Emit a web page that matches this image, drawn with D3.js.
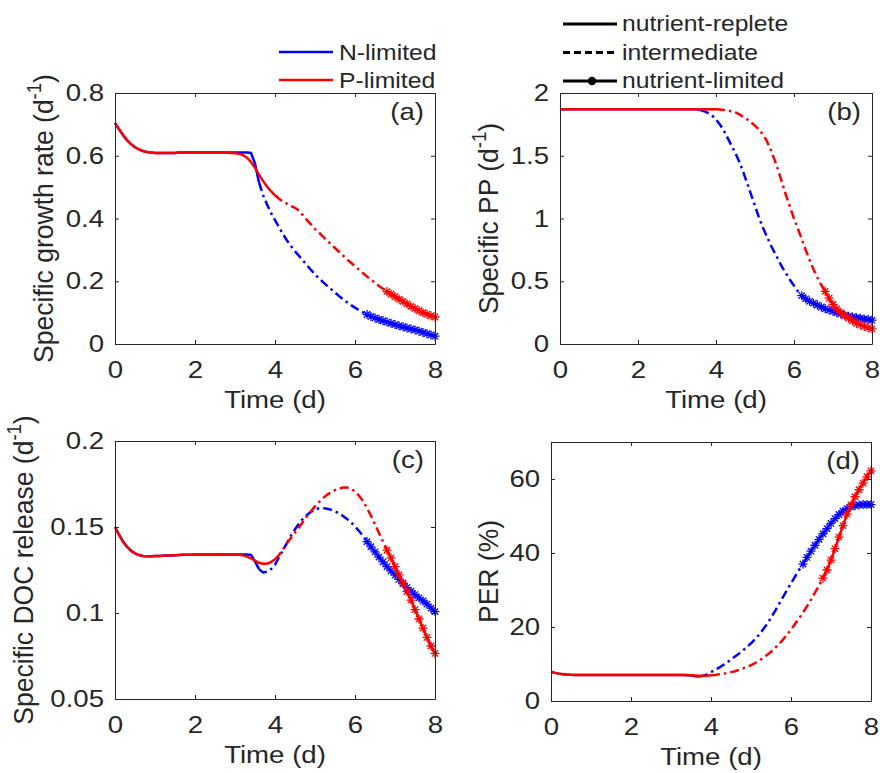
<!DOCTYPE html>
<html>
<head>
<meta charset="utf-8">
<script src="https://cdn.jsdelivr.net/npm/d3@7"></script>
<style>
body { margin: 0; background: #fff; }
text { font-family: "Liberation Sans", Arial, sans-serif; fill: #262626; }
</style>
</head>
<body>
<svg id="fig" width="880" height="773"></svg>
<script>
// time grid of the model output (d)
const days = [
    0, 0.1, 0.2, 0.3, 0.4, 0.5, 0.6, 0.7, 0.8, 0.9,
    1, 1.1, 1.2, 1.3, 1.4, 1.5, 1.6, 1.7, 1.8, 1.9,
    2, 2.1, 2.2, 2.3, 2.4, 2.5, 2.6, 2.7, 2.8, 2.9,
    3, 3.1, 3.2, 3.3, 3.4, 3.5, 3.6, 3.7, 3.8, 3.9,
    4, 4.1, 4.2, 4.3, 4.4, 4.5, 4.6, 4.7, 4.8, 4.9,
    5, 5.1, 5.2, 5.3, 5.4, 5.5, 5.6, 5.7, 5.8, 5.9,
    6, 6.1, 6.2, 6.3, 6.4, 6.5, 6.6, 6.7, 6.8, 6.9,
    7, 7.1, 7.2, 7.3, 7.4, 7.5, 7.6, 7.7, 7.8, 7.9, 8
];

// (a) specific growth rate (d-1)
const growthN = [
    0.704, 0.685, 0.666, 0.650, 0.637, 0.627, 0.620, 0.615, 0.612, 0.610,
    0.609, 0.609, 0.609, 0.609, 0.609, 0.609, 0.610, 0.610, 0.610, 0.610,
    0.610, 0.610, 0.610, 0.610, 0.610, 0.610, 0.610, 0.610, 0.610, 0.610,
    0.610, 0.610, 0.610, 0.610, 0.609, 0.575, 0.515, 0.475, 0.445, 0.418,
    0.395, 0.372, 0.350, 0.330, 0.312, 0.295, 0.281, 0.266, 0.251, 0.236,
    0.222, 0.209, 0.197, 0.186, 0.175, 0.164, 0.153, 0.143, 0.133, 0.124,
    0.116, 0.108, 0.101, 0.094, 0.088, 0.083, 0.078, 0.074, 0.070, 0.066,
    0.062, 0.058, 0.055, 0.051, 0.048, 0.045, 0.041, 0.037, 0.033, 0.029, 0.025
];
const growthP = [
    0.704, 0.685, 0.666, 0.650, 0.637, 0.627, 0.620, 0.615, 0.612, 0.610,
    0.609, 0.609, 0.609, 0.609, 0.609, 0.609, 0.610, 0.610, 0.610, 0.610,
    0.610, 0.610, 0.610, 0.610, 0.610, 0.610, 0.610, 0.610, 0.610, 0.609,
    0.608, 0.606, 0.602, 0.594, 0.580, 0.562, 0.540, 0.520, 0.502, 0.487,
    0.474, 0.463, 0.454, 0.447, 0.440, 0.434, 0.425, 0.410, 0.395, 0.381,
    0.367, 0.355, 0.342, 0.330, 0.318, 0.306, 0.294, 0.282, 0.270, 0.259,
    0.248, 0.237, 0.226, 0.215, 0.205, 0.195, 0.185, 0.176, 0.167, 0.159,
    0.151, 0.143, 0.136, 0.128, 0.120, 0.113, 0.106, 0.100, 0.095, 0.090, 0.086
];

// (b) specific PP (d-1)
const ppN = [
    1.870, 1.870, 1.870, 1.870, 1.870, 1.870, 1.870, 1.870, 1.870, 1.870,
    1.870, 1.870, 1.870, 1.870, 1.870, 1.870, 1.870, 1.870, 1.870, 1.870,
    1.870, 1.870, 1.870, 1.870, 1.870, 1.870, 1.870, 1.870, 1.870, 1.870,
    1.870, 1.870, 1.870, 1.870, 1.870, 1.870, 1.865, 1.855, 1.840, 1.820,
    1.790, 1.750, 1.700, 1.640, 1.580, 1.520, 1.450, 1.370, 1.280, 1.190,
    1.100, 1.010, 0.930, 0.860, 0.790, 0.730, 0.670, 0.610, 0.560, 0.510,
    0.465, 0.420, 0.385, 0.360, 0.340, 0.325, 0.310, 0.295, 0.280, 0.270,
    0.260, 0.250, 0.240, 0.230, 0.222, 0.215, 0.210, 0.205, 0.200, 0.195, 0.190
];
const ppP = [
    1.870, 1.870, 1.870, 1.870, 1.870, 1.870, 1.870, 1.870, 1.870, 1.870,
    1.870, 1.870, 1.870, 1.870, 1.870, 1.870, 1.870, 1.870, 1.870, 1.870,
    1.870, 1.870, 1.870, 1.870, 1.870, 1.870, 1.870, 1.870, 1.870, 1.870,
    1.870, 1.870, 1.870, 1.870, 1.870, 1.870, 1.870, 1.870, 1.870, 1.870,
    1.870, 1.868, 1.865, 1.860, 1.855, 1.845, 1.830, 1.810, 1.790, 1.765,
    1.740, 1.710, 1.670, 1.620, 1.550, 1.470, 1.380, 1.280, 1.180, 1.090,
    1.000, 0.920, 0.835, 0.750, 0.670, 0.595, 0.530, 0.470, 0.420, 0.365,
    0.315, 0.280, 0.250, 0.225, 0.205, 0.185, 0.165, 0.152, 0.140, 0.130, 0.120
];

// (c) specific DOC release (d-1)
const docN = [
    0.1500, 0.1455, 0.1415, 0.1385, 0.1362, 0.1347, 0.1337, 0.1332, 0.1330, 0.1330,
    0.1331, 0.1332, 0.1333, 0.1334, 0.1335, 0.1336, 0.1337, 0.1338, 0.1339, 0.1339,
    0.1340, 0.1340, 0.1340, 0.1340, 0.1340, 0.1340, 0.1340, 0.1340, 0.1340, 0.1340,
    0.1340, 0.1340, 0.1340, 0.1340, 0.1338, 0.1300, 0.1255, 0.1236, 0.1240, 0.1255,
    0.1280, 0.1325, 0.1365, 0.1408, 0.1450, 0.1487, 0.1520, 0.1548, 0.1570, 0.1588,
    0.1601, 0.1609, 0.1610, 0.1606, 0.1600, 0.1591, 0.1579, 0.1564, 0.1547, 0.1527,
    0.1503, 0.1477, 0.1448, 0.1415, 0.1385, 0.1355, 0.1325, 0.1297, 0.1270, 0.1245,
    0.1220, 0.1195, 0.1170, 0.1148, 0.1127, 0.1107, 0.1088, 0.1070, 0.1052, 0.1028, 0.1008
];
const docP = [
    0.1500, 0.1455, 0.1415, 0.1385, 0.1362, 0.1347, 0.1337, 0.1332, 0.1330, 0.1330,
    0.1331, 0.1332, 0.1333, 0.1334, 0.1335, 0.1336, 0.1337, 0.1338, 0.1339, 0.1339,
    0.1340, 0.1340, 0.1340, 0.1340, 0.1340, 0.1340, 0.1340, 0.1340, 0.1340, 0.1340,
    0.1339, 0.1338, 0.1335, 0.1328, 0.1318, 0.1304, 0.1292, 0.1286, 0.1287, 0.1296,
    0.1312, 0.1337, 0.1370, 0.1405, 0.1437, 0.1468, 0.1497, 0.1530, 0.1562, 0.1592,
    0.1620, 0.1645, 0.1667, 0.1687, 0.1702, 0.1714, 0.1723, 0.1729, 0.1729, 0.1722,
    0.1707, 0.1683, 0.1650, 0.1610, 0.1565, 0.1515, 0.1465, 0.1415, 0.1365, 0.1320,
    0.1270, 0.1222, 0.1175, 0.1125, 0.1075, 0.1020, 0.0965, 0.0912, 0.0858, 0.0808, 0.0765
];

// (d) PER (%)
const perN = [
    7.9, 7.6, 7.4, 7.25, 7.15, 7.08, 7.04, 7.02, 7.0, 7.0,
    7.0, 7.0, 7.0, 7.0, 7.0, 7.0, 7.0, 7.0, 7.0, 7.0,
    7.0, 7.0, 7.0, 7.0, 7.0, 7.0, 7.0, 7.0, 7.0, 7.0,
    7.0, 7.0, 7.0, 7.0, 7.0, 6.9, 6.7, 6.6, 6.8, 7.2,
    7.8, 8.4, 9.0, 9.7, 10.4, 11.2, 12.0, 12.8, 13.7, 14.6,
    15.6, 16.7, 17.9, 19.3, 20.8, 22.5, 24.3, 26.2, 28.1, 30.0,
    31.8, 33.6, 35.4, 37.0, 38.8, 40.5, 42.1, 43.7, 45.2, 46.6,
    48.0, 49.3, 50.4, 51.3, 52.0, 52.5, 52.8, 53.0, 53.1, 53.1, 53.1
];
const perP = [
    7.9, 7.6, 7.4, 7.25, 7.15, 7.08, 7.04, 7.02, 7.0, 7.0,
    7.0, 7.0, 7.0, 7.0, 7.0, 7.0, 7.0, 7.0, 7.0, 7.0,
    7.0, 7.0, 7.0, 7.0, 7.0, 7.0, 7.0, 7.0, 7.0, 7.0,
    7.0, 7.0, 7.0, 7.0, 6.98, 6.95, 6.88, 6.82, 6.8, 6.85,
    6.95, 7.05, 7.2, 7.35, 7.55, 7.8, 8.05, 8.4, 8.8, 9.2,
    9.7, 10.25, 10.9, 11.6, 12.4, 13.3, 14.3, 15.4, 16.6, 17.9,
    19.3, 20.8, 22.3, 23.9, 25.6, 27.4, 29.3, 31.2, 33.2, 35.4,
    38.1, 41.2, 44.3, 47.4, 50.5, 53.0, 55.2, 57.1, 58.9, 60.6, 62.2
];

// day at which each run enters the intermediate / nutrient-limited phase
const growthPhaseN = [3.6, 6.3], growthPhaseP = [4.0, 6.8];
const ppPhaseN = [3.6, 6.2], ppPhaseP = [4.0, 6.8];
const docPhaseN = [3.6, 6.3], docPhaseP = [4.0, 6.8];
const perPhaseN = [3.7, 6.3], perPhaseP = [4.0, 6.8];

const xTicks = [0, 2, 4, 6, 8];
const xTickLabels = ['0', '2', '4', '6', '8'];
const growthTicks = [0, 0.2, 0.4, 0.6, 0.8], growthTickLabels = ['0', '0.2', '0.4', '0.6', '0.8'];
const ppTicks = [0, 0.5, 1, 1.5, 2], ppTickLabels = ['0', '0.5', '1', '1.5', '2'];
const docTicks = [0.05, 0.1, 0.15, 0.2], docTickLabels = ['0.05', '0.1', '0.15', '0.2'];
const perTicks = [0, 20, 40, 60], perTickLabels = ['0', '20', '40', '60'];

const runNames = ['N-limited', 'P-limited'];
const phaseNames = ['nutrient-replete', 'intermediate', 'nutrient-limited'];

const svg = d3.select('#fig');
const ink = '#262626';
const sx = 1.15; // the reference text is stretched sideways
const blue = '#0000ff', red = '#ff0000';
const dashDot = '9,4,2.5,4';

const panels = [
    {tag: '(a)', left: 115, right: 435, top: 93, bottom: 344, dom: [0, 0.8],
     ticks: growthTicks, tickLabels: growthTickLabels, ylabelX: 53,
     ylabel: ['Specific growth rate (d', ')'],
     runs: [[growthN, growthPhaseN, blue], [growthP, growthPhaseP, red]]},
    {tag: '(b)', left: 560, right: 872, top: 93, bottom: 344, dom: [0, 2],
     ticks: ppTicks, tickLabels: ppTickLabels, ylabelX: 498,
     ylabel: ['Specific PP (d', ')'],
     runs: [[ppN, ppPhaseN, blue], [ppP, ppPhaseP, red]]},
    {tag: '(c)', left: 115, right: 435, top: 441, bottom: 699, dom: [0.05, 0.2],
     ticks: docTicks, tickLabels: docTickLabels, ylabelX: 33,
     ylabel: ['Specific DOC release (d', ')'],
     runs: [[docN, docPhaseN, blue], [docP, docPhaseP, red]]},
    {tag: '(d)', left: 551, right: 871, top: 442, bottom: 701, dom: [0, 70],
     ticks: perTicks, tickLabels: perTickLabels, ylabelX: 498,
     ylabel: ['PER (%)'],
     runs: [[perN, perPhaseN, blue], [perP, perPhaseP, red]]}
];

// matlab '*' marker
const star = 'M-4.5,0H4.5M0,-4.5V4.5M-3.2,-3.2L3.2,3.2M-3.2,3.2L3.2,-3.2';

function indexOfDay(t) {
    return days.findIndex(d => Math.abs(d - t) < 1e-6);
}

function drawPanel(p) {
    const x = d3.scaleLinear().domain([0, 8]).range([p.left, p.right]);
    const y = d3.scaleLinear().domain(p.dom).range([p.bottom, p.top]);
    const line = d3.line().x(d => x(d[0])).y(d => y(d[1]));
    const g = svg.append('g');

    p.runs.forEach(([vals, phase, color]) => {
        const pts = days.map((t, i) => [t, vals[i]]);
        const i1 = indexOfDay(phase[0]);
        const i2 = indexOfDay(phase[1]);
        const segs = [
            [pts.slice(0, i1 + 1), null],
            [pts.slice(i1, i2 + 1), dashDot],
            [pts.slice(i2), null]
        ];
        segs.forEach(([seg, dash]) => {
            g.append('path')
                .datum(seg)
                .attr('d', line)
                .attr('fill', 'none')
                .attr('stroke', color)
                .attr('stroke-width', 2.5)
                .attr('stroke-dasharray', dash);
        });
        g.append('g')
            .selectAll('path')
            .data(pts.slice(i2))
            .join('path')
            .attr('transform', d => `translate(${x(d[0])},${y(d[1])})`)
            .attr('d', star)
            .attr('fill', 'none')
            .attr('stroke', color)
            .attr('stroke-width', 1.3);
    });

    // box with inward ticks on all four sides
    const bottomAxis = g.append('g')
        .attr('transform', `translate(0,${p.bottom})`)
        .call(d3.axisBottom(x).tickValues(xTicks)
            .tickFormat((d, i) => xTickLabels[i])
            .tickSizeInner(-4).tickSizeOuter(0).tickPadding(17));
    const leftAxis = g.append('g')
        .attr('transform', `translate(${p.left},0)`)
        .call(d3.axisLeft(y).tickValues(p.ticks)
            .tickFormat((d, i) => p.tickLabels[i])
            .tickSizeInner(-4).tickSizeOuter(0).tickPadding(9.5));
    g.append('g')
        .attr('transform', `translate(0,${p.top})`)
        .call(d3.axisTop(x).tickValues(xTicks).tickFormat('')
            .tickSizeInner(-4).tickSizeOuter(0));
    g.append('g')
        .attr('transform', `translate(${p.right},0)`)
        .call(d3.axisRight(y).tickValues(p.ticks).tickFormat('')
            .tickSizeInner(-4).tickSizeOuter(0));

    g.selectAll('.domain, .tick line').attr('stroke', ink);
    [bottomAxis, leftAxis].forEach(a => {
        a.selectAll('text')
            .attr('font-size', 24)
            .attr('font-family', null)
            .attr('fill', ink)
            .attr('transform', `scale(${sx},1)`);
    });

    g.append('text')
        .attr('transform', `translate(${(p.left + p.right) / 2},${p.bottom + 64}) scale(${sx},1)`)
        .attr('text-anchor', 'middle')
        .attr('font-size', 24)
        .text('Time (d)');

    const yl = g.append('text')
        .attr('transform', `translate(${p.ylabelX},${(p.top + p.bottom) / 2}) scale(1.05,1) rotate(-90)`)
        .attr('text-anchor', 'middle')
        .attr('font-size', 26.5);
    yl.append('tspan').text(p.ylabel[0]);
    if (p.ylabel.length > 1) {
        yl.append('tspan').attr('font-size', 18.5).attr('dy', -11).text('-1');
        yl.append('tspan').attr('dy', 11).text(p.ylabel[1]);
    }

    g.append('text')
        .attr('transform', `translate(${p.right - 11},${p.top + 27}) scale(${sx},1)`)
        .attr('text-anchor', 'end')
        .attr('font-size', 24)
        .text(p.tag);
}

panels.forEach(drawPanel);

// legend of the two runs
const runLegend = svg.append('g');
[blue, red].forEach((c, i) => {
    const ly = 52 + i * 28;
    runLegend.append('line')
        .attr('x1', 279).attr('x2', 333).attr('y1', ly).attr('y2', ly)
        .attr('stroke', c).attr('stroke-width', 2.5);
    runLegend.append('text')
        .attr('transform', `translate(339,${ly + 7.5}) scale(${sx},1)`)
        .attr('font-size', 21.5)
        .text(runNames[i]);
});

// legend of the growth phases
const phaseLegend = svg.append('g');
phaseNames.forEach((name, i) => {
    const ly = 24 + i * 28.5;
    phaseLegend.append('line')
        .attr('x1', 563).attr('x2', 617).attr('y1', ly).attr('y2', ly)
        .attr('stroke', '#000').attr('stroke-width', 3)
        .attr('stroke-dasharray', i === 1 ? '7,4' : null);
    if (i === 2) {
        phaseLegend.append('circle')
            .attr('cx', 592).attr('cy', ly).attr('r', 4.2)
            .attr('fill', '#000');
    }
    phaseLegend.append('text')
        .attr('transform', `translate(622,${ly + 7}) scale(${sx},1)`)
        .attr('font-size', 21.5)
        .text(name);
});
</script>
</body>
</html>
